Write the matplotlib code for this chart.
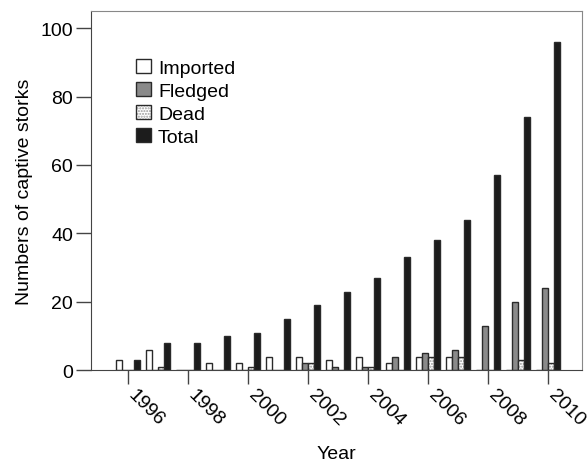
import matplotlib
matplotlib.use("Agg")
import matplotlib.pyplot as plt
import matplotlib.transforms as mtransforms
from matplotlib.patches import Rectangle
from matplotlib.legend_handler import HandlerTuple
import numpy as np

plt.rcParams['font.family'] = ['Liberation Sans', 'DejaVu Sans']

years = np.arange(1996, 2011)
imported = [3, 6, 0, 2, 2, 4, 4, 3, 4, 2, 4, 4, 0, 0, 0]
fledged = [0, 0, 0, 0, 0, 0, 2, 1, 1, 4, 5, 6, 13, 20, 24]
dead = [0, 1, 0, 0, 1, 0, 2, 0, 1, 0, 4, 4, 0, 3, 2]
total = [3, 8, 8, 10, 11, 15, 19, 23, 27, 33, 38, 44, 57, 74, 96]
tick_years = [1996, 1998, 2000, 2002, 2004, 2006, 2008, 2010]

fig = plt.figure(figsize=(5.87, 4.64), dpi=100)
ax = fig.add_axes([0.155, 0.2, 0.836, 0.774])

w = 0.2
edge = '#2a2a2a'
b1 = ax.bar(years - 0.3, imported, w, color='white', edgecolor=edge, linewidth=1.0)
b2 = ax.bar(years - 0.1, fledged, w, color='#8a8a8a', edgecolor=edge, linewidth=1.0)
# dead: grey dotted fill, dark outline drawn on top
ax.bar(years + 0.1, dead, w, color='white', edgecolor='#9a9a9a', hatch='......', linewidth=0)
ax.bar(years + 0.1, dead, w, fill=False, edgecolor=edge, linewidth=1.0)
b4 = ax.bar(years + 0.3, total, w, color='#1c1c1c', edgecolor=edge, linewidth=1.0)

dead_handle = (Rectangle((0, 0), 1, 1, facecolor='white', edgecolor='#9a9a9a', hatch='......', linewidth=0),
               Rectangle((0, 0), 1, 1, fill=False, edgecolor=edge, linewidth=1.0))
ax.legend([b1, b2, dead_handle, b4], ['Imported', 'Fledged', 'Dead', 'Total'],
          handler_map={tuple: HandlerTuple(ndivide=1, pad=0)},
          loc='upper left', bbox_to_anchor=(0.065, 0.905), frameon=False,
          fontsize=14, handlelength=0.75, handleheight=0.75, labelspacing=0.27,
          handletextpad=0.35, borderpad=0.2)

ax.set_xlim(1994.77, 2011.13)
ax.set_ylim(0, 105)
ax.set_xticks(tick_years)
ax.set_xticklabels([str(y) for y in tick_years], rotation=-45, ha='left', va='top',
                   rotation_mode='anchor', fontsize=14)
ax.set_yticks([0, 20, 40, 60, 80, 100])
ax.tick_params(axis='y', labelsize=14, length=11, width=1.0, color='#444444', pad=2)
ax.tick_params(axis='x', length=10, width=1.0, color='#444444', pad=1)

for s in ['left', 'bottom']:
    ax.spines[s].set_color('#444444')
for s in ['top', 'right']:
    ax.spines[s].set_color('#888888')

ax.set_ylabel('Numbers of captive storks', fontsize=14, labelpad=5)
ax.set_xlabel('Year', fontsize=14, labelpad=12)

# nudge the rotated year labels to the right of their ticks
fig.canvas.draw()
shift = mtransforms.ScaledTranslation(9 / 100, 0, fig.dpi_scale_trans)
for t in ax.xaxis.get_major_ticks():
    t.label1.set_transform(t.label1.get_transform() + shift)

fig.savefig('out.png', dpi=100)
